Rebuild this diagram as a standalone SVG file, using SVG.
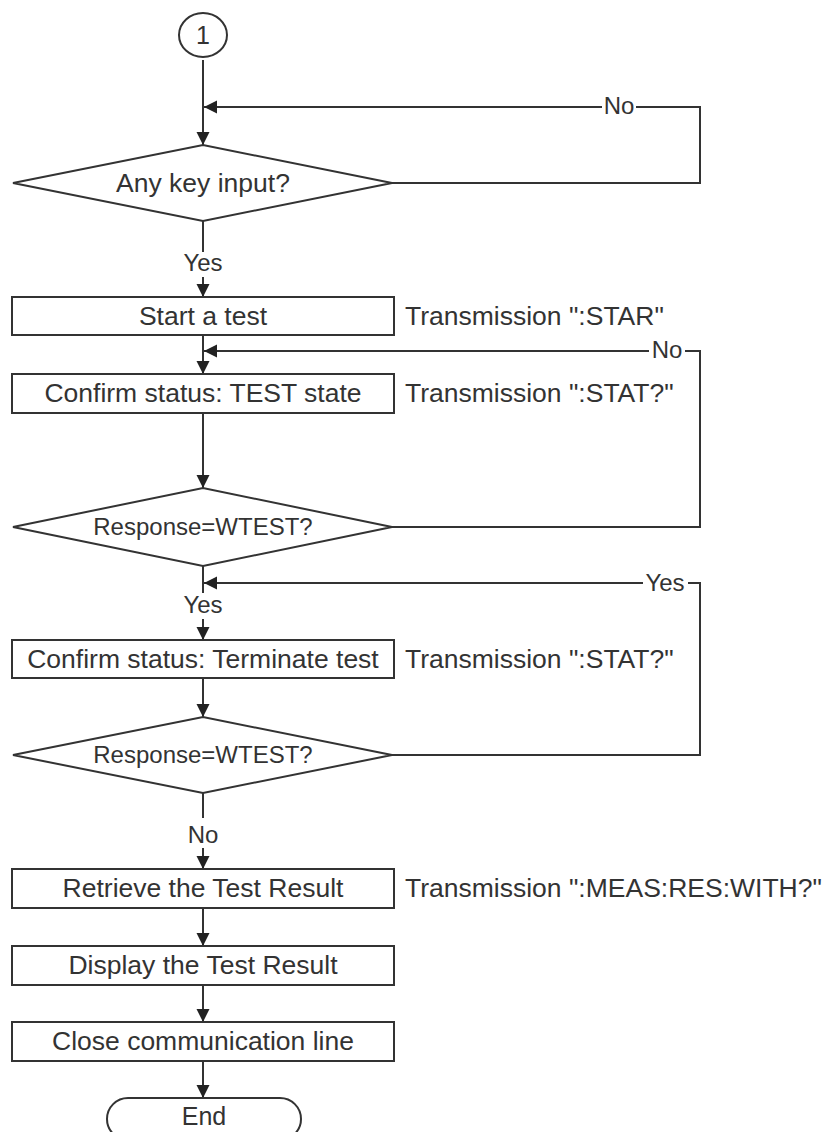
<svg xmlns="http://www.w3.org/2000/svg" width="832" height="1132" viewBox="0 0 832 1132">
<style>
.shape{fill:#fff;stroke:#333;stroke-width:2}
.conn{fill:none;stroke:#333;stroke-width:2}
.t{font-family:"Liberation Sans",Arial,sans-serif;font-size:26.5px;fill:#333}
.c{text-anchor:middle}
.lbl{font-family:"Liberation Sans",Arial,sans-serif;font-size:24px;fill:#333;text-anchor:middle}
</style>
<defs>
<marker id="arr" markerUnits="userSpaceOnUse" markerWidth="14" markerHeight="14" refX="13" refY="6.5" orient="auto">
<path d="M0,0 L13,6.5 L0,13 Z" fill="#222"/>
</marker>
</defs>
<rect width="832" height="1132" fill="#fff"/>
<g id="connectors">
<line class="conn" x1="203" y1="60" x2="203" y2="145" marker-end="url(#arr)"/>
<polyline class="conn" points="392,183 700,183 700,107 636,107"/>
<line class="conn" x1="602" y1="107" x2="204" y2="107" marker-end="url(#arr)"/>
<text class="lbl" x="619" y="114">No</text>
<line class="conn" x1="203" y1="221" x2="203" y2="252"/>
<text class="lbl" x="203" y="271">Yes</text>
<line class="conn" x1="203" y1="277" x2="203" y2="297" marker-end="url(#arr)"/>
<line class="conn" x1="203" y1="335" x2="203" y2="374" marker-end="url(#arr)"/>
<polyline class="conn" points="392,527 700,527 700,351 685,351"/>
<line class="conn" x1="649" y1="351" x2="204" y2="351" marker-end="url(#arr)"/>
<text class="lbl" x="667" y="358">No</text>
<line class="conn" x1="203" y1="413" x2="203" y2="488" marker-end="url(#arr)"/>
<line class="conn" x1="203" y1="566" x2="203" y2="593"/>
<text class="lbl" x="203" y="613">Yes</text>
<line class="conn" x1="203" y1="619" x2="203" y2="640" marker-end="url(#arr)"/>
<polyline class="conn" points="392,755 700,755 700,583 688,583"/>
<line class="conn" x1="643" y1="583" x2="204" y2="583" marker-end="url(#arr)"/>
<text class="lbl" x="665" y="591">Yes</text>
<line class="conn" x1="203" y1="678" x2="203" y2="717" marker-end="url(#arr)"/>
<line class="conn" x1="203" y1="793" x2="203" y2="818"/>
<text class="lbl" x="203" y="843">No</text>
<line class="conn" x1="203" y1="848" x2="203" y2="869" marker-end="url(#arr)"/>
<line class="conn" x1="203" y1="908" x2="203" y2="946" marker-end="url(#arr)"/>
<line class="conn" x1="203" y1="985" x2="203" y2="1022" marker-end="url(#arr)"/>
<line class="conn" x1="203" y1="1061" x2="203" y2="1098" marker-end="url(#arr)"/>
</g>
<g id="start">
<ellipse class="shape" cx="203" cy="35" rx="24" ry="22"/>
<text class="t c" x="203" y="44" style="font-size:25px">1</text>
</g>
<g id="d1">
<polygon class="shape" points="13,183 203,145 392,183 203,221"/>
<text class="t c" x="203" y="192">Any key input?</text>
</g>
<g id="b1">
<rect class="shape" x="12" y="297" width="382" height="38"/>
<text class="t c" x="203" y="325">Start a test</text>
<text class="t" x="405" y="325">Transmission ":STAR"</text>
</g>
<g id="b2">
<rect class="shape" x="12" y="374" width="382" height="39"/>
<text class="t c" x="203" y="402">Confirm status: TEST state</text>
<text class="t" x="405" y="402">Transmission ":STAT?"</text>
</g>
<g id="d2">
<polygon class="shape" points="13,527 203,488 392,527 203,566"/>
<text class="t c" x="203" y="535" style="font-size:24px">Response=WTEST?</text>
</g>
<g id="b3">
<rect class="shape" x="12" y="640" width="382" height="38"/>
<text class="t c" x="203" y="668">Confirm status: Terminate test</text>
<text class="t" x="405" y="668">Transmission ":STAT?"</text>
</g>
<g id="d3">
<polygon class="shape" points="13,755 203,717 392,755 203,793"/>
<text class="t c" x="203" y="763" style="font-size:24px">Response=WTEST?</text>
</g>
<g id="b4">
<rect class="shape" x="12" y="869" width="382" height="39"/>
<text class="t c" x="203" y="897">Retrieve the Test Result</text>
<text class="t" x="405" y="897">Transmission ":MEAS:RES:WITH?"</text>
</g>
<g id="b5">
<rect class="shape" x="12" y="946" width="382" height="39"/>
<text class="t c" x="203" y="974">Display the Test Result</text>
</g>
<g id="b6">
<rect class="shape" x="12" y="1022" width="382" height="39"/>
<text class="t c" x="203" y="1050">Close communication line</text>
</g>
<g id="end">
<rect class="shape" x="107" y="1098" width="194" height="42" rx="21"/>
<text class="t c" x="204" y="1125" style="font-size:25px">End</text>
</g>
</svg>
